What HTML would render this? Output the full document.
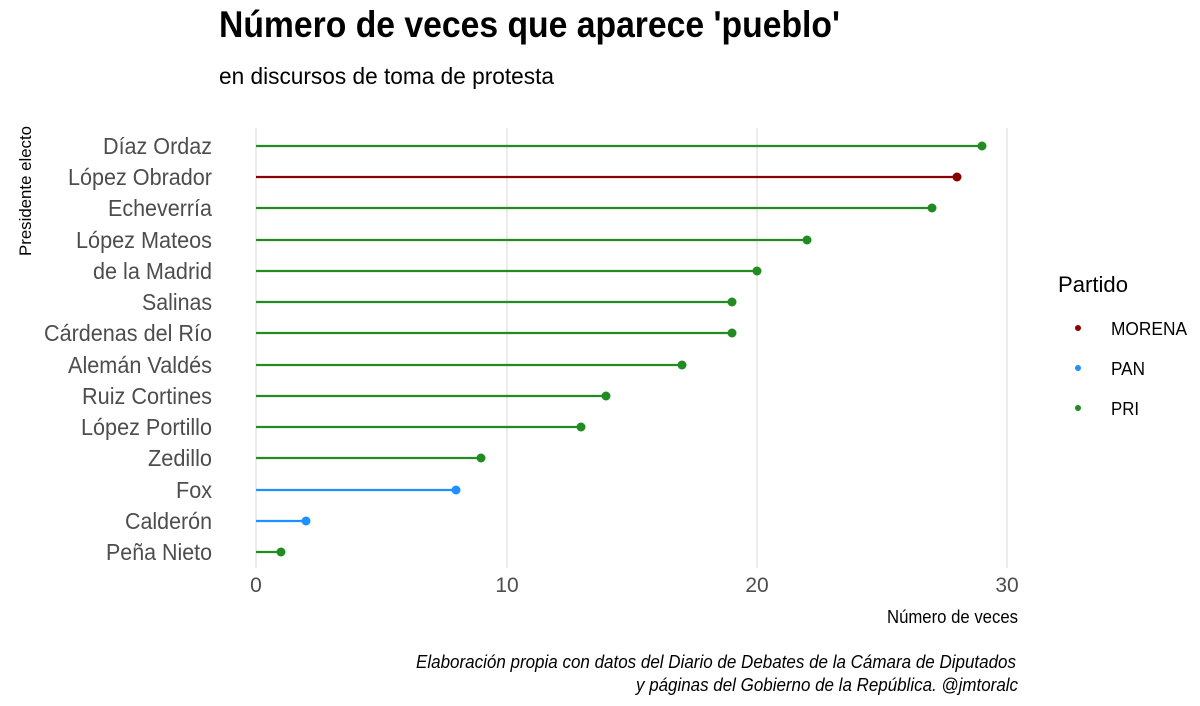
<!DOCTYPE html>
<html><head><meta charset="utf-8"><style>
html,body{margin:0;padding:0;background:#fff}
svg{display:block}
text{font-family:"Liberation Sans Narrow","Liberation Sans",sans-serif}
</style></head><body>
<svg width="1200" height="706" viewBox="0 0 1200 706" xmlns="http://www.w3.org/2000/svg">
<rect width="1200" height="706" fill="#fff"/>
<text x="219" y="37" font-size="37" font-weight="bold" fill="#000" textLength="621" lengthAdjust="spacingAndGlyphs">Número de veces que aparece 'pueblo'</text>
<text x="219" y="84" font-size="23" fill="#000" textLength="335" lengthAdjust="spacingAndGlyphs">en discursos de toma de protesta</text>
<g stroke="#d9d9d9" stroke-width="1">
<line x1="256" y1="128" x2="256" y2="568"/>
<line x1="507" y1="128" x2="507" y2="568"/>
<line x1="757" y1="128" x2="757" y2="568"/>
<line x1="1007" y1="128" x2="1007" y2="568"/>
</g>
<text transform="translate(31,191) rotate(-90)" text-anchor="middle" font-size="17" fill="#000" textLength="130" lengthAdjust="spacingAndGlyphs">Presidente electo</text>
<g font-size="23" fill="#4d4d4d" lengthAdjust="spacingAndGlyphs">
<text x="103" y="154" textLength="109" lengthAdjust="spacingAndGlyphs">Díaz Ordaz</text>
<text x="68" y="185" textLength="144" lengthAdjust="spacingAndGlyphs">López Obrador</text>
<text x="108" y="216" textLength="104" lengthAdjust="spacingAndGlyphs">Echeverría</text>
<text x="76" y="248" textLength="136" lengthAdjust="spacingAndGlyphs">López Mateos</text>
<text x="93" y="279" textLength="119" lengthAdjust="spacingAndGlyphs">de la Madrid</text>
<text x="142" y="310" textLength="70" lengthAdjust="spacingAndGlyphs">Salinas</text>
<text x="44" y="341" textLength="168" lengthAdjust="spacingAndGlyphs">Cárdenas del Río</text>
<text x="68" y="373" textLength="144" lengthAdjust="spacingAndGlyphs">Alemán Valdés</text>
<text x="82" y="404" textLength="130" lengthAdjust="spacingAndGlyphs">Ruiz Cortines</text>
<text x="81" y="435" textLength="131" lengthAdjust="spacingAndGlyphs">López Portillo</text>
<text x="148" y="466" textLength="64" lengthAdjust="spacingAndGlyphs">Zedillo</text>
<text x="176" y="498" textLength="36" lengthAdjust="spacingAndGlyphs">Fox</text>
<text x="125" y="529" textLength="87" lengthAdjust="spacingAndGlyphs">Calderón</text>
<text x="106" y="560" textLength="106" lengthAdjust="spacingAndGlyphs">Peña Nieto</text>
</g>
<g stroke-width="2.2">
<line x1="256" y1="146" x2="982" y2="146" stroke="#228B22"/><circle cx="982" cy="146" r="4.5" fill="#228B22"/>
<line x1="256" y1="177" x2="957" y2="177" stroke="#8B0000"/><circle cx="957" cy="177" r="4.5" fill="#8B0000"/>
<line x1="256" y1="208" x2="932" y2="208" stroke="#228B22"/><circle cx="932" cy="208" r="4.5" fill="#228B22"/>
<line x1="256" y1="240" x2="807" y2="240" stroke="#228B22"/><circle cx="807" cy="240" r="4.5" fill="#228B22"/>
<line x1="256" y1="271" x2="757" y2="271" stroke="#228B22"/><circle cx="757" cy="271" r="4.5" fill="#228B22"/>
<line x1="256" y1="302" x2="732" y2="302" stroke="#228B22"/><circle cx="732" cy="302" r="4.5" fill="#228B22"/>
<line x1="256" y1="333" x2="732" y2="333" stroke="#228B22"/><circle cx="732" cy="333" r="4.5" fill="#228B22"/>
<line x1="256" y1="365" x2="682" y2="365" stroke="#228B22"/><circle cx="682" cy="365" r="4.5" fill="#228B22"/>
<line x1="256" y1="396" x2="606" y2="396" stroke="#228B22"/><circle cx="606" cy="396" r="4.5" fill="#228B22"/>
<line x1="256" y1="427" x2="581" y2="427" stroke="#228B22"/><circle cx="581" cy="427" r="4.5" fill="#228B22"/>
<line x1="256" y1="458" x2="481" y2="458" stroke="#228B22"/><circle cx="481" cy="458" r="4.5" fill="#228B22"/>
<line x1="256" y1="490" x2="456" y2="490" stroke="#1E90FF"/><circle cx="456" cy="490" r="4.5" fill="#1E90FF"/>
<line x1="256" y1="521" x2="306" y2="521" stroke="#1E90FF"/><circle cx="306" cy="521" r="4.5" fill="#1E90FF"/>
<line x1="256" y1="552" x2="281" y2="552" stroke="#228B22"/><circle cx="281" cy="552" r="4.5" fill="#228B22"/>
</g>
<g font-size="21" fill="#4d4d4d" text-anchor="middle">
<text x="256" y="592">0</text><text x="507" y="592">10</text><text x="757" y="592">20</text><text x="1007" y="592">30</text>
</g>
<text x="887" y="623" font-size="18" fill="#000" textLength="131" lengthAdjust="spacingAndGlyphs">Número de veces</text>
<text x="1058" y="292" font-size="22" fill="#000" textLength="70" lengthAdjust="spacingAndGlyphs">Partido</text>
<circle cx="1078" cy="328" r="3" fill="#8B0000"/><text x="1111" y="335" font-size="18" fill="#000" textLength="76" lengthAdjust="spacingAndGlyphs">MORENA</text>
<circle cx="1078" cy="368" r="3" fill="#1E90FF"/><text x="1111" y="375" font-size="18" fill="#000" textLength="34" lengthAdjust="spacingAndGlyphs">PAN</text>
<circle cx="1078" cy="408" r="3" fill="#228B22"/><text x="1111" y="415" font-size="18" fill="#000" textLength="28" lengthAdjust="spacingAndGlyphs">PRI</text>
<g font-size="18" font-style="italic" fill="#000">
<text x="416" y="668" textLength="600" lengthAdjust="spacingAndGlyphs">Elaboración propia con datos del Diario de Debates de la Cámara de Diputados</text>
<text x="636" y="691" textLength="382" lengthAdjust="spacingAndGlyphs">y páginas del Gobierno de la República. @jmtoralc</text>
</g>
</svg>
</body></html>
